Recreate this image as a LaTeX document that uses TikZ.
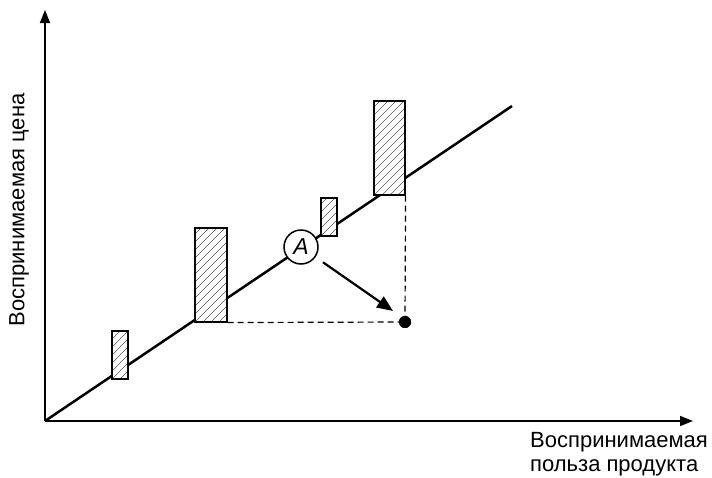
\documentclass[tikz,border=0pt]{standalone}
\usepackage{fontspec}
\setmainfont{Liberation Sans}
\usetikzlibrary{arrows.meta}
\begin{document}
\begin{tikzpicture}[x=1pt,y=-1pt,
  axis/.style={line width=1.5pt,-{Triangle[length=13pt,width=10pt]}},
  mainline/.style={line width=2.5pt},
  hatchbox/.style={draw,line width=1.1pt,fill=white,inner sep=0pt,
    path picture={\foreach \k in {-48,-40,...,104}
      \draw[gray!70!black,line width=0.6pt] (path picture bounding box.south west) ++(0pt,\k pt) -- ++(130pt,130pt);}},
  dashline/.style={line width=1.2pt,dash pattern=on 6pt off 4pt},
  lbl/.style={font=\fontsize{22}{24.5}\selectfont,inner sep=0pt}]
\useasboundingbox (0,0) rectangle (712,477);
\coordinate (O) at (45,421);
\coordinate (ytip) at (45,10);
\coordinate (xtip) at (693,421);
\coordinate (lend) at (512,106);
\draw[axis] (O) -- (ytip);
\draw[axis] (O) -- (xtip);
\draw[mainline] (O) -- (lend);
\node[hatchbox,minimum width=16pt,minimum height=48pt] (r1) at (120,355) {};
\node[hatchbox,minimum width=32pt,minimum height=94pt] (r2) at (211,275) {};
\node[hatchbox,minimum width=16pt,minimum height=38pt] (r3) at (329,217) {};
\node[hatchbox,minimum width=31pt,minimum height=94pt] (r4) at (389.5,148) {};
\node[circle,draw,line width=1.5pt,fill=white,minimum size=34pt,inner sep=0pt,font=\fontsize{23}{24}\selectfont\itshape] (A) at (301,247) {A};
\node[circle,fill=black,minimum size=12pt,inner sep=0pt] (dot) at (405,322) {};
\coordinate (tip) at (393,311);
\draw[dashline] (r2.south east) -- (dot.center);
\draw[dashline] (r4.south east) -- (dot.center);
\node[circle,fill=black,minimum size=12pt,inner sep=0pt] at (dot) {};
\draw[line width=2.2pt,-{Triangle[length=16pt,width=13pt]},shorten <=9pt] (A) -- (tip);
\node[lbl,rotate=90] (ylab) at (19,210) {Воспринимаемая цена};
\node[lbl,align=left,anchor=north west] (xlab) at (530,432) {Воспринимаемая\\польза продукта};
\end{tikzpicture}
\end{document}
